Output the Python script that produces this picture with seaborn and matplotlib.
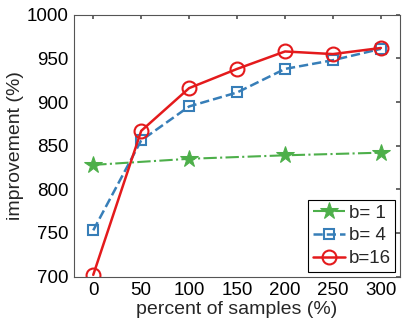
import pandas as pd
import numpy as np
import seaborn as sns
import matplotlib.pyplot as plt

# data
x_b1 = [0, 100, 200, 300]
y_b1 = [828, 835, 839, 842]
x_b4 = [0, 50, 100, 150, 200, 250, 300]
y_b4 = [753, 856, 895, 911, 938, 948, 961]
x_b16 = [0, 50, 100, 150, 200, 250, 300]
y_b16 = [702, 867, 916, 938, 958, 955, 962]

sns.set_theme(style="white")
plt.rcParams['font.family'] = ['Liberation Sans', 'DejaVu Sans']

fig, ax = plt.subplots(figsize=(4.07, 3.22), dpi=100)

sns.lineplot(x=x_b1, y=y_b1, ax=ax, color="#4DAF4A", linestyle="-.", linewidth=1.5,
             marker="*", markersize=13, markerfacecolor="#4DAF4A", markeredgecolor="#4DAF4A",
             label="b= 1")
sns.lineplot(x=x_b4, y=y_b4, ax=ax, color="#377EB8", linestyle="--", linewidth=1.8,
             marker="s", markersize=7.5, markerfacecolor="none", markeredgecolor="#377EB8",
             markeredgewidth=1.5, label="b= 4")
sns.lineplot(x=x_b16, y=y_b16, ax=ax, color="#E41A1C", linestyle="-", linewidth=1.8,
             marker="o", markersize=10, markerfacecolor="none", markeredgecolor="#E41A1C",
             markeredgewidth=1.5, label="b=16")

ax.set_xlim(-20, 320)
ax.set_ylim(700, 1000)
ax.set_xticks([0, 50, 100, 150, 200, 250, 300])
ax.set_yticks([700, 750, 800, 850, 900, 950, 1000])
ax.tick_params(labelsize=13.5, direction="in", length=3, color="#555555",
               labelcolor="black", top=True, right=True, pad=4)
ax.set_xlabel("percent of samples (%)", fontsize=14, labelpad=1)
ax.set_ylabel("improvement (%)", fontsize=14, labelpad=2)

for s in ax.spines.values():
    s.set_color("#555555")
    s.set_linewidth(0.8)

leg = ax.legend(loc="lower right", fontsize=13.5, fancybox=False, framealpha=1,
                edgecolor="black", handlelength=1.7, handletextpad=0.2,
                borderaxespad=0.25, labelspacing=0.3, borderpad=0.25)
leg.get_frame().set_linewidth(0.8)

plt.subplots_adjust(left=0.182, right=0.983, top=0.954, bottom=0.141)
plt.savefig("out.png")
